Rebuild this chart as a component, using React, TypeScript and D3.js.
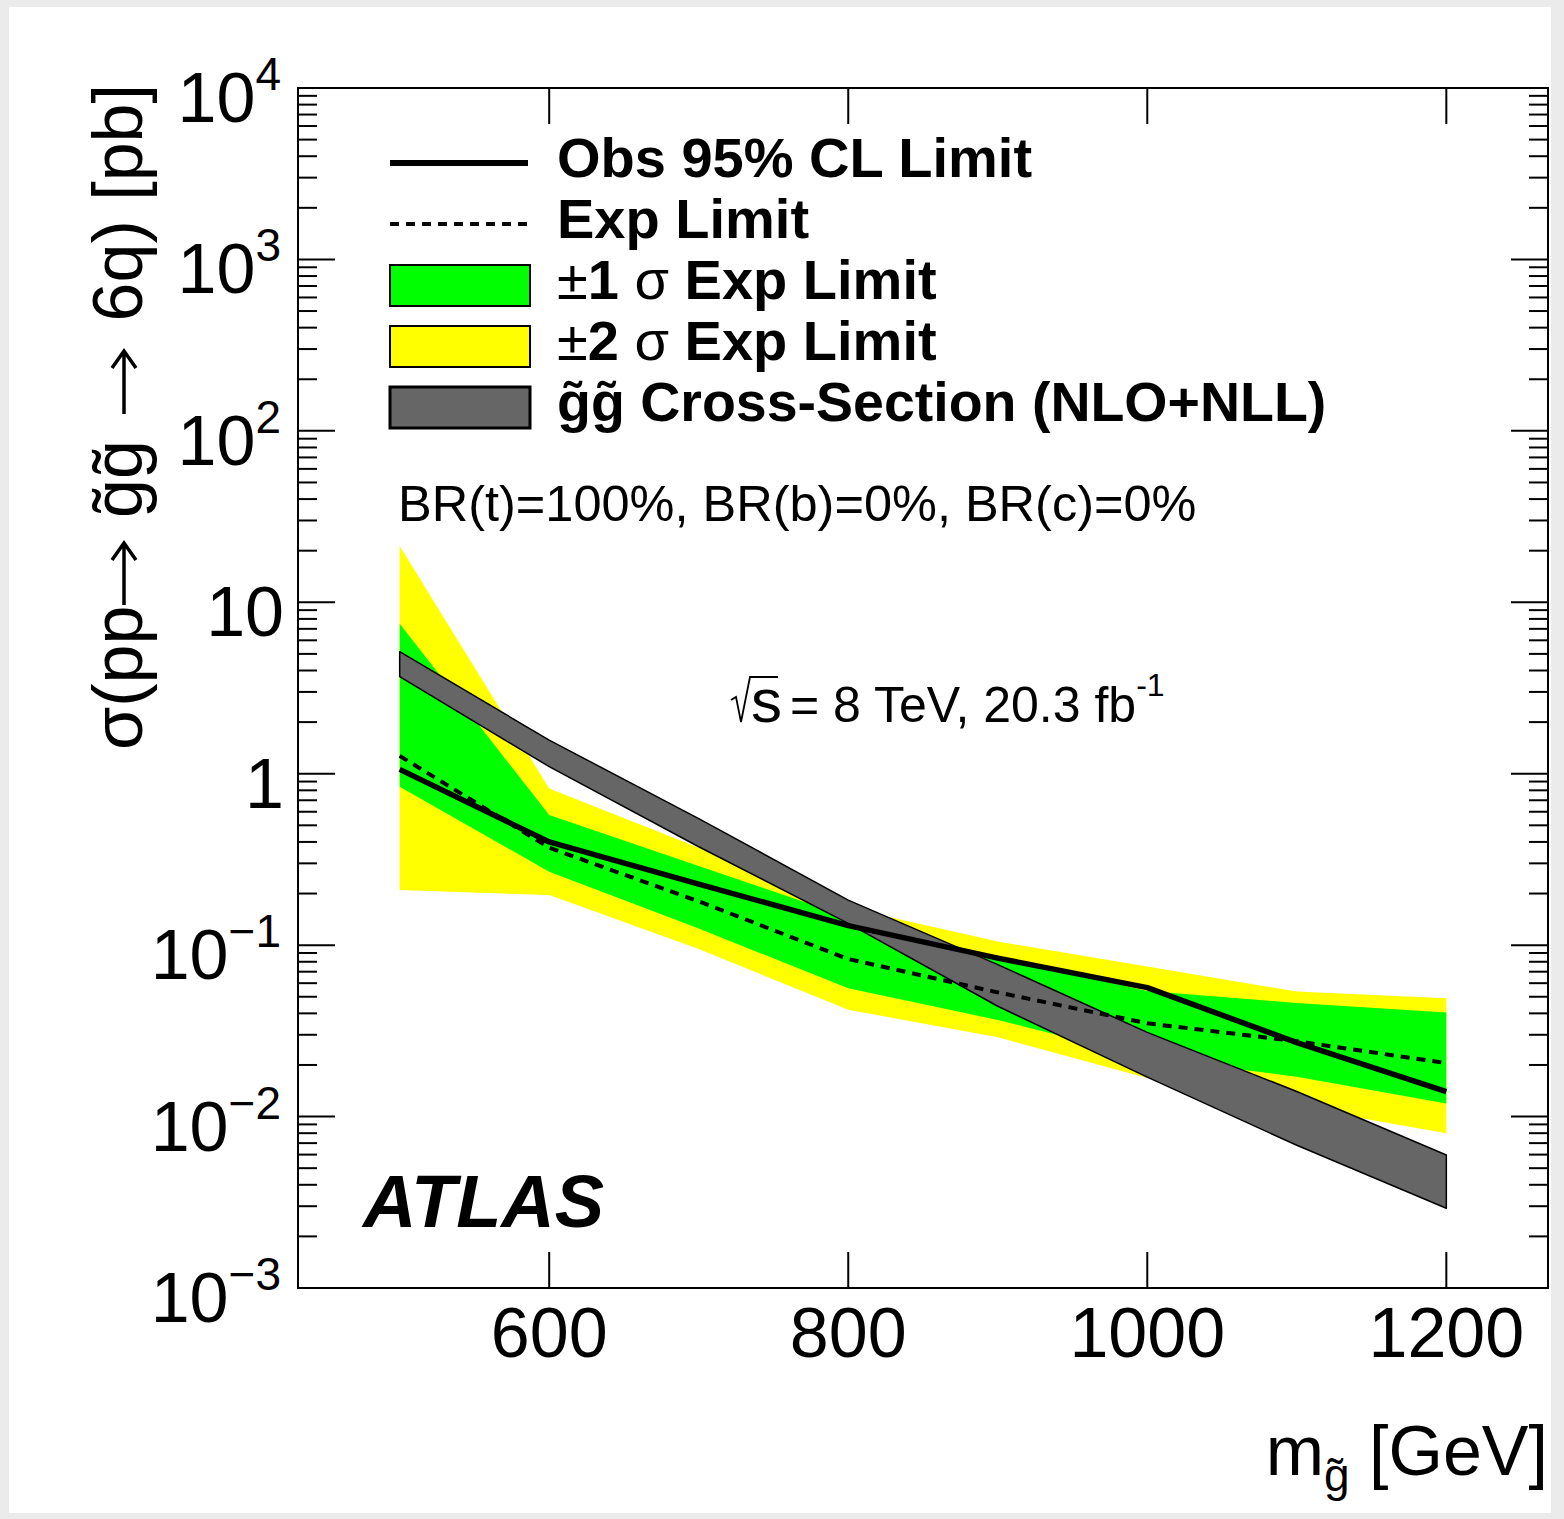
import React from 'react';
import * as d3 from 'd3';

// ---------------- data ----------------
const masses = [500, 600, 700, 800, 900, 1000, 1100, 1200];
const obsLimit = [1.06, 0.40, 0.227, 0.13, 0.084, 0.0565, 0.027, 0.014];
const expLimit = [1.27, 0.37, 0.18, 0.083, 0.053, 0.035, 0.0275, 0.0205];
const oneSigmaUp = [7.5, 0.574, 0.29, 0.146, 0.085, 0.054, 0.046, 0.0404];
const oneSigmaDown = [0.84, 0.268, 0.125, 0.056, 0.0366, 0.022, 0.0171, 0.0119];
const twoSigmaUp = [21.3, 0.82, 0.37, 0.165, 0.105, 0.075, 0.0536, 0.049];
const twoSigmaDown = [0.21, 0.196, 0.095, 0.042, 0.029, 0.0168, 0.0114, 0.008];
const xsecUp = [5.15, 1.57, 0.547, 0.183, 0.077, 0.031, 0.014, 0.00597];
const xsecDown = [3.68, 1.10, 0.375, 0.134, 0.044, 0.017, 0.0068, 0.00292];

const xTicks = [600, 800, 1000, 1200];
const yExponents = [-3, -2, -1, 0, 1, 2, 3, 4];

const legendLabels = [
  'Obs 95% CL Limit',
  'Exp Limit',
  '±1 σ Exp Limit',
  '±2 σ Exp Limit',
  'g\u0303g\u0303 Cross-Section (NLO+NLL)',
];

// y-axis title pieces (arrows drawn as strokes between them)
const yTitleStart = 'σ(pp';
const yTitleMid = 'g\u0303g\u0303';
const yTitleEnd = '6q) [pb]';

const FONT = '"Liberation Sans", Arial, Helvetica, sans-serif';

// ---------------- layout ----------------
const W = 1564;
const H = 1519;
const L = 298, R = 1548, T = 88, B = 1288;

export default function App() {
  const x = d3.scaleLinear().domain([432, 1268]).range([L, R]);
  const y = d3.scaleLog().domain([1e-3, 1e4]).range([B, T]);

  const band = (lo: number[], hi: number[]) =>
    d3
      .area<number>()
      .x((_, i) => x(masses[i]))
      .y0((_, i) => y(lo[i]))
      .y1((_, i) => y(hi[i]))(masses) as string;

  const line = (vals: number[]) =>
    d3
      .line<number>()
      .x((_, i) => x(masses[i]))
      .y((_, i) => y(vals[i]))(masses) as string;

  // minor y ticks
  const minorY: number[] = [];
  for (let e = -3; e < 4; e++) {
    for (let k = 2; k <= 9; k++) minorY.push(k * Math.pow(10, e));
  }

  const yLabel = (e: number, key: number) => {
    const ty = y(Math.pow(10, e));
    const base = ty + 34;
    if (e === 0 || e === 1) {
      return (
        <text key={key} x={284} y={base} textAnchor="end" fontSize={70} fontFamily={FONT}>
          {e === 0 ? '1' : '10'}
        </text>
      );
    }
    const sup = e < 0 ? '\u2212' + Math.abs(e) : String(e);
    return (
      <text key={key} x={281} y={base} textAnchor="end" fontSize={70} fontFamily={FONT}>
        <tspan>10</tspan>
        <tspan fontSize={46} dy={-32}>{sup}</tspan>
      </text>
    );
  };

  const legX0 = 390, legX1 = 530, legText = 557;
  const rowBase = (i: number) => 177 + 61 * i;
  const rowMid = (i: number) => 163 + 61 * i;
  const LFS = 56;

  // rotated y title: baseline at page x=142, arrow axis at x=124
  const TX = 142;
  const AX = 124;
  const upArrow = (y0: number, y1: number) =>
    `M${AX},${y0} L${AX},${y1} M${AX - 12},${y1 + 17} L${AX},${y1} L${AX + 12},${y1 + 17}`;

  return (
    <svg
      width={W}
      height={H}
      style={{ position: 'absolute', left: 0, top: 0, display: 'block' }}
      xmlns="http://www.w3.org/2000/svg"
    >
      <rect x={0} y={0} width={W} height={H} fill="#ebebeb" />
      <rect x={9} y={7} width={1542} height={1506} fill="#ffffff" />

      {/* bands */}
      <path d={band(twoSigmaDown, twoSigmaUp)} fill="#ffff00" stroke="none" />
      <path d={band(oneSigmaDown, oneSigmaUp)} fill="#00ff00" stroke="none" />
      <path
        d={band(xsecDown, xsecUp) + 'Z'}
        fill="#666666"
        stroke="#000"
        strokeWidth={1.5}
        strokeLinejoin="round"
      />
      <path d={line(expLimit)} fill="none" stroke="#000" strokeWidth={4} strokeDasharray="9 7" />
      <path d={line(obsLimit)} fill="none" stroke="#000" strokeWidth={5.5} strokeLinejoin="round" />

      {/* frame */}
      <rect x={L} y={T} width={R - L} height={B - T} fill="none" stroke="#000" strokeWidth={2} />

      {/* y ticks */}
      {yExponents.map((e) => {
        const ty = y(Math.pow(10, e));
        return (
          <g key={'ym' + e}>
            <line x1={L} x2={L + 37} y1={ty} y2={ty} stroke="#000" strokeWidth={2} />
            <line x1={R} x2={R - 37} y1={ty} y2={ty} stroke="#000" strokeWidth={2} />
          </g>
        );
      })}
      {minorY.map((v, i) => {
        const ty = y(v);
        return (
          <g key={'yn' + i}>
            <line x1={L} x2={L + 19} y1={ty} y2={ty} stroke="#000" strokeWidth={2} />
            <line x1={R} x2={R - 19} y1={ty} y2={ty} stroke="#000" strokeWidth={2} />
          </g>
        );
      })}

      {/* x ticks */}
      {xTicks.map((t) => {
        const tx = x(t);
        return (
          <g key={'xt' + t}>
            <line x1={tx} x2={tx} y1={B} y2={B - 36} stroke="#000" strokeWidth={2} />
            <line x1={tx} x2={tx} y1={T} y2={T + 36} stroke="#000" strokeWidth={2} />
            <text x={tx} y={1357} textAnchor="middle" fontSize={70} fontFamily={FONT}>
              {t}
            </text>
          </g>
        );
      })}

      {/* y tick labels */}
      {yExponents.map((e, i) => yLabel(e, i))}

      {/* y axis title */}
      <text
        transform={`translate(${TX},750) rotate(-90)`}
        textAnchor="start"
        fontSize={70}
        fontFamily={FONT}
      >
        {yTitleStart}
      </text>
      <path d={upArrow(605, 543)} fill="none" stroke="#000" strokeWidth={3.5} strokeLinejoin="miter" />
      <text
        transform={`translate(${TX},518) rotate(-90)`}
        textAnchor="start"
        fontSize={70}
        fontFamily={FONT}
      >
        {yTitleMid}
      </text>
      <path d={upArrow(414, 351)} fill="none" stroke="#000" strokeWidth={3.5} strokeLinejoin="miter" />
      <text
        transform={`translate(${TX},84) rotate(-90)`}
        textAnchor="end"
        fontSize={70}
        fontFamily={FONT}
      >
        {yTitleEnd}
      </text>

      {/* x axis title */}
      <text x={1548} y={1475} textAnchor="end" fontSize={70} fontFamily={FONT}>
        <tspan>m</tspan>
        <tspan fontSize={46} dy={16}>{'g\u0303'}</tspan>
        <tspan dy={-16}>{' [GeV]'}</tspan>
      </text>

      {/* legend */}
      <line x1={legX0} x2={528} y1={rowMid(0)} y2={rowMid(0)} stroke="#000" strokeWidth={6} />
      <line
        x1={legX0}
        x2={528}
        y1={rowMid(1)}
        y2={rowMid(1)}
        stroke="#000"
        strokeWidth={4}
        strokeDasharray="9 7"
      />
      <rect x={legX0} y={rowMid(2) - 20} width={legX1 - legX0} height={41} fill="#00ff00" stroke="#000" strokeWidth={2} />
      <rect x={legX0} y={rowMid(3) - 20} width={legX1 - legX0} height={41} fill="#ffff00" stroke="#000" strokeWidth={2} />
      <rect x={legX0} y={rowMid(4) - 20} width={legX1 - legX0} height={41} fill="#666666" stroke="#000" strokeWidth={3} />

      <text x={legText} y={rowBase(0)} fontSize={LFS} fontWeight="bold" fontFamily={FONT}>
        {legendLabels[0]}
      </text>
      <text x={legText} y={rowBase(1)} fontSize={LFS} fontWeight="bold" fontFamily={FONT}>
        {legendLabels[1]}
      </text>
      <text x={legText} y={rowBase(2)} fontSize={LFS} fontFamily={FONT}>
        <tspan fontWeight="normal">±</tspan>
        <tspan fontWeight="bold">1 </tspan>
        <tspan fontWeight="normal">σ</tspan>
        <tspan fontWeight="bold"> Exp Limit</tspan>
      </text>
      <text x={legText} y={rowBase(3)} fontSize={LFS} fontFamily={FONT}>
        <tspan fontWeight="normal">±</tspan>
        <tspan fontWeight="bold">2 </tspan>
        <tspan fontWeight="normal">σ</tspan>
        <tspan fontWeight="bold"> Exp Limit</tspan>
      </text>
      <text x={legText} y={rowBase(4)} fontSize={55.5} fontWeight="bold" fontFamily={FONT}>
        {legendLabels[4]}
      </text>

      {/* annotations */}
      <text x={398} y={521} fontSize={50.5} fontFamily={FONT}>
        BR(t)=100%, BR(b)=0%, BR(c)=0%
      </text>
      <path d="M731,700 L736,697 L741,722 L750,677 L778,677" fill="none" stroke="#000" strokeWidth={1.8} />
      <text x={751} y={722} fontSize={62} fontFamily={FONT}>s</text>
      <text x={790} y={722} fontSize={50} fontFamily={FONT}>
        <tspan>= 8 TeV, 20.3 fb</tspan>
        <tspan fontSize={32} dy={-26}>-1</tspan>
      </text>
      <text
        x={363}
        y={1227}
        fontSize={74}
        fontWeight="bold"
        fontStyle="italic"
        fontFamily={FONT}
      >
        ATLAS
      </text>
    </svg>
  );
}
